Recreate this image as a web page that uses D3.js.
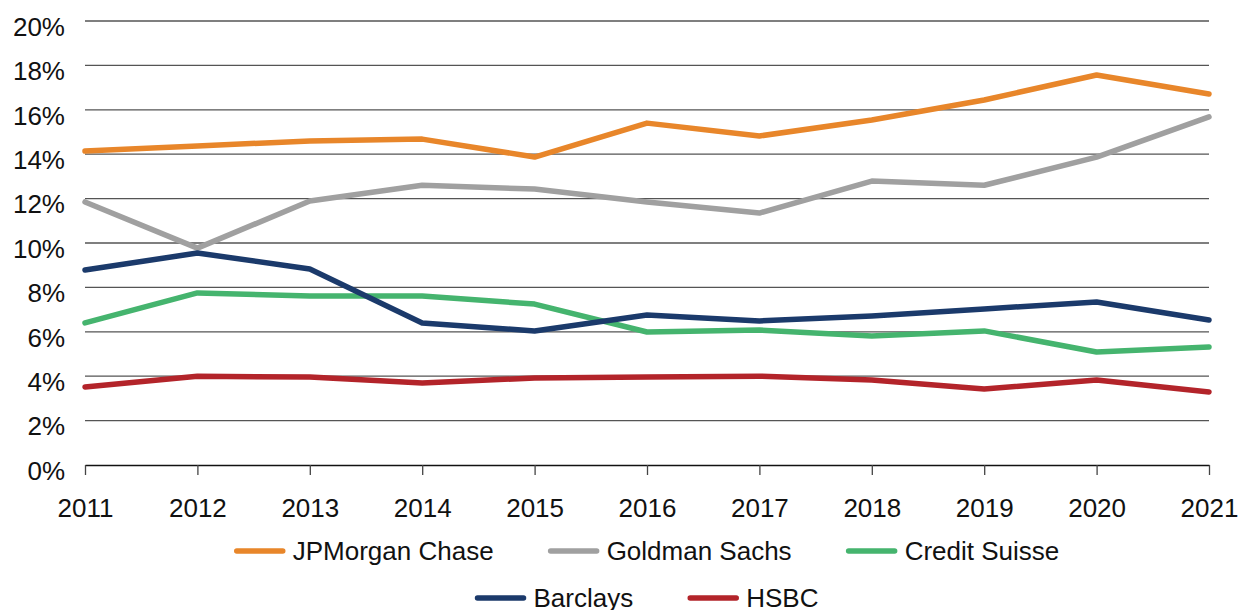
<!DOCTYPE html>
<html>
<head>
<meta charset="utf-8">
<script src="https://cdn.jsdelivr.net/npm/d3@7"></script>
<style>
  body { margin: 0; background: #fff; }
  text { font-family: "Liberation Sans", Arial, Helvetica, sans-serif; fill: #111; }
</style>
</head>
<body>
<svg class="chart"></svg>
<script>
// data
var years = [2011, 2012, 2013, 2014, 2015, 2016, 2017, 2018, 2019, 2020, 2021];
var seriesNames = ["JPMorgan Chase", "Goldman Sachs", "Credit Suisse", "Barclays", "HSBC"];
var seriesColors = ["#E8862A", "#A0A0A0", "#45B46E", "#1B3A6B", "#B3242A"];
var jpmorgan = [14.14, 14.37, 14.6, 14.68, 13.87, 15.4, 14.82, 15.54, 16.44, 17.57, 16.71];
var goldman = [11.85, 9.77, 11.89, 12.6, 12.43, 11.85, 11.35, 12.79, 12.6, 13.87, 15.68];
var creditSuisse = [6.4, 7.75, 7.61, 7.61, 7.25, 5.99, 6.08, 5.81, 6.04, 5.09, 5.32];
var barclays = [8.78, 9.55, 8.83, 6.4, 6.04, 6.76, 6.49, 6.71, 7.03, 7.34, 6.53];
var hsbc = [3.51, 4.0, 3.96, 3.69, 3.92, 3.96, 4.0, 3.83, 3.42, 3.83, 3.29];
var yTicks = [0, 2, 4, 6, 8, 10, 12, 14, 16, 18, 20];

var seriesValues = [jpmorgan, goldman, creditSuisse, barclays, hsbc];

// define margins
var margin = {top: 21, right: 30, bottom: 145, left: 85},
  width = 1239 - margin.left - margin.right,
  height = 610 - margin.top - margin.bottom;

var svg = d3.select(".chart")
  .attr("width", 1239)
  .attr("height", 610);

var chart = svg.append("g")
  .attr("transform", "translate(" + margin.left + "," + margin.top + ")");

// scales
var x = d3.scalePoint()
  .domain(years)
  .range([0, width]);

var y = d3.scaleLinear()
  .domain([0, 20])
  .range([height, 0]);

// gridlines
chart.selectAll(".grid")
  .data(yTicks.slice(1))
  .enter().append("line")
  .attr("class", "grid")
  .attr("x1", 0)
  .attr("x2", width)
  .attr("y1", function(d) { return y(d); })
  .attr("y2", function(d) { return y(d); })
  .attr("stroke", "#555")
  .attr("stroke-width", 1.3);

// y-axis labels
var yAxis = d3.axisLeft(y)
  .tickValues(yTicks)
  .tickSize(0)
  .tickPadding(20)
  .tickFormat(function(d) { return d + "%"; });

var yG = chart.append("g").call(yAxis);
yG.select(".domain").remove();
yG.selectAll("text")
  .attr("dy", "0.55em")
  .style("font-size", "26px")
  .style("font-family", "Liberation Sans, Arial, sans-serif")
  .attr("fill", "#111");

// x-axis
var xAxis = d3.axisBottom(x)
  .tickSizeOuter(0)
  .tickSizeInner(10)
  .tickPadding(24);

var xG = chart.append("g")
  .attr("transform", "translate(0," + height + ")")
  .call(xAxis);
xG.select(".domain").attr("stroke", "#111").attr("stroke-width", 1.3);
xG.selectAll(".tick line").attr("stroke", "#444").attr("stroke-width", 1.3);
xG.selectAll("text")
  .style("font-size", "26px")
  .style("font-family", "Liberation Sans, Arial, sans-serif")
  .attr("fill", "#111");

// lines
var line = d3.line()
  .x(function(d, i) { return x(years[i]); })
  .y(function(d) { return y(d); });

chart.selectAll(".series")
  .data(seriesValues)
  .enter().append("path")
  .attr("class", "series")
  .attr("d", line)
  .attr("fill", "none")
  .attr("stroke", function(d, i) { return seriesColors[i]; })
  .attr("stroke-width", 5.5)
  .attr("stroke-linejoin", "round")
  .attr("stroke-linecap", "round");

// legend
var rows = [[0, 1, 2], [3, 4]];
var rowY = [551, 598];
var swatch = 50, swGap = 8, itemGap = 55;

rows.forEach(function(row, r) {
  var g = svg.append("g");
  var xPos = 0;
  row.forEach(function(k) {
    g.append("line")
      .attr("x1", xPos + 2)
      .attr("x2", xPos + swatch - 2)
      .attr("y1", rowY[r])
      .attr("y2", rowY[r])
      .attr("stroke", seriesColors[k])
      .attr("stroke-width", 5.5)
      .attr("stroke-linecap", "round");
    var t = g.append("text")
      .attr("x", xPos + swatch + swGap)
      .attr("y", rowY[r])
      .attr("dy", "0.35em")
      .style("font-size", "26px")
      .text(seriesNames[k]);
    xPos += swatch + swGap + t.node().getComputedTextLength() + itemGap;
  });
  var total = xPos - itemGap;
  g.attr("transform", "translate(" + (margin.left + width / 2 - total / 2) + ",0)");
});
</script>
</body>
</html>
